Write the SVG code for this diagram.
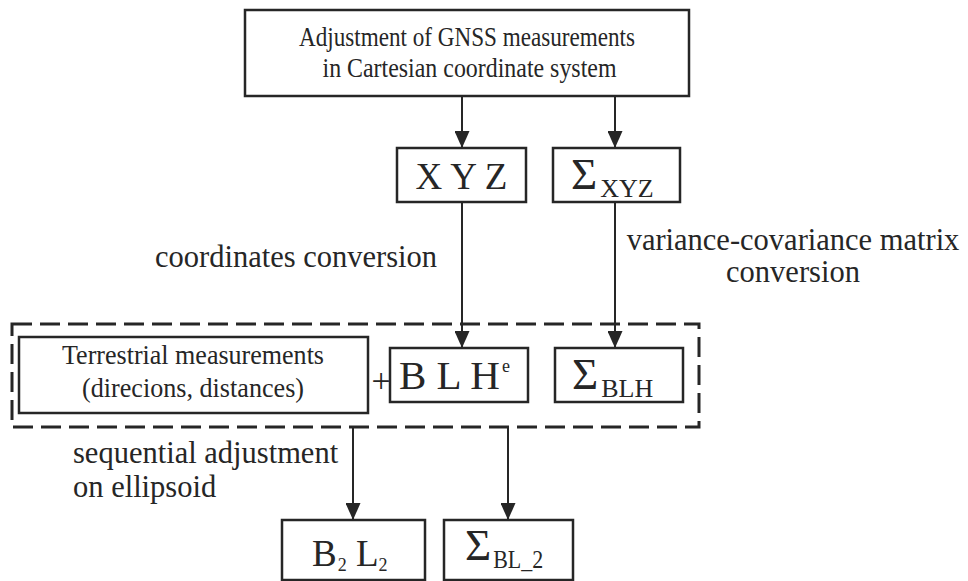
<svg xmlns="http://www.w3.org/2000/svg" width="968" height="581" viewBox="0 0 968 581">
  <style>
    .box { fill: #ffffff; stroke: #262626; stroke-width: 2.5; }
    .grp { fill: none; stroke: #262626; stroke-width: 3; stroke-dasharray: 20 8; }
    .wire { fill: none; stroke: #262626; stroke-width: 2; marker-end: url(#head); }
    text { font-family: "Liberation Serif", "Times New Roman", serif; fill: #262626; }
    .t { font-size: 27px; }
    .lbl { font-size: 30.5px; }
    .big { font-size: 37px; }
    .sig { font-size: 45px; }
    .sub { font-size: 26px; }
  </style>
  <defs>
    <marker id="head" viewBox="0 0 17 15" refX="17" refY="7.5" markerWidth="17" markerHeight="15" markerUnits="userSpaceOnUse" orient="auto">
      <path d="M0,0 L17,7.5 L0,15 Z" fill="#262626"/>
    </marker>
  </defs>
  <rect width="968" height="581" fill="#ffffff"/>

  <!-- dashed frame around the ellipsoid-level inputs -->
  <rect class="grp" x="12" y="324" width="687" height="103"/>

  <!-- connectors -->
  <g id="connectors">
    <line class="wire" x1="462" y1="96" x2="462" y2="148"/>
    <line class="wire" x1="615" y1="96" x2="615" y2="148"/>
    <line class="wire" x1="462" y1="202" x2="462" y2="348"/>
    <line class="wire" x1="615" y1="202" x2="615" y2="348"/>
    <line class="wire" x1="353" y1="427" x2="353" y2="520"/>
    <line class="wire" x1="508" y1="427" x2="508" y2="520"/>
  </g>

  <!-- connector labels -->
  <text class="lbl" x="296" y="267" text-anchor="middle">coordinates conversion</text>
  <text class="lbl" x="793" y="250" text-anchor="middle">variance-covariance matrix</text>
  <text class="lbl" x="793" y="282" text-anchor="middle">conversion</text>
  <text class="lbl" x="73" y="463">sequential adjustment</text>
  <text class="lbl" x="73" y="497">on ellipsoid</text>

  <g id="gnss">
    <rect class="box" x="245" y="10" width="444" height="86"/>
    <text font-size="28" x="467" y="46" text-anchor="middle" textLength="336" lengthAdjust="spacingAndGlyphs">Adjustment of GNSS measurements</text>
    <text font-size="28" x="469.5" y="77" text-anchor="middle" textLength="294" lengthAdjust="spacingAndGlyphs">in Cartesian coordinate system</text>
  </g>

  <g id="xyz">
    <rect class="box" x="397" y="148" width="129" height="54"/>
    <text class="big" x="461.5" y="189" text-anchor="middle">X Y Z</text>
  </g>

  <g id="sigma-xyz">
    <rect class="box" x="553" y="148" width="127" height="54"/>
    <text x="571" y="189"><tspan class="sig">Σ</tspan><tspan class="sub" dx="3" dy="8">XYZ</tspan></text>
  </g>

  <g id="terrestrial">
    <rect class="box" x="19" y="337" width="349" height="76"/>
    <text class="t" x="193" y="364" text-anchor="middle" textLength="262" lengthAdjust="spacingAndGlyphs">Terrestrial measurements</text>
    <text class="t" x="193" y="397" text-anchor="middle" textLength="222" lengthAdjust="spacingAndGlyphs">(direcions, distances)</text>
  </g>

  <text font-size="34" x="381" y="392" text-anchor="middle">+</text>

  <g id="blh">
    <rect class="box" x="390" y="348" width="138" height="54"/>
    <text x="399" y="389"><tspan font-size="41">B L H</tspan><tspan font-size="18" dx="2" dy="-17">e</tspan></text>
  </g>

  <g id="sigma-blh">
    <rect class="box" x="555" y="348" width="128" height="54"/>
    <text x="572" y="389"><tspan class="sig">Σ</tspan><tspan class="sub" dx="3" dy="8">BLH</tspan></text>
  </g>

  <g id="bl2">
    <rect class="box" x="282" y="520" width="143" height="60"/>
    <text x="312" y="566"><tspan class="big">B</tspan><tspan font-size="18" dx="1" dy="5">2</tspan><tspan class="big" dy="-5"> L</tspan><tspan font-size="18" dy="5">2</tspan></text>
  </g>

  <g id="sigma-bl2">
    <rect class="box" x="444" y="520" width="129" height="60"/>
    <text x="465" y="560"><tspan class="sig">Σ</tspan><tspan class="sub" dx="2" dy="8" textLength="50" lengthAdjust="spacingAndGlyphs">BL_2</tspan></text>
  </g>
</svg>
